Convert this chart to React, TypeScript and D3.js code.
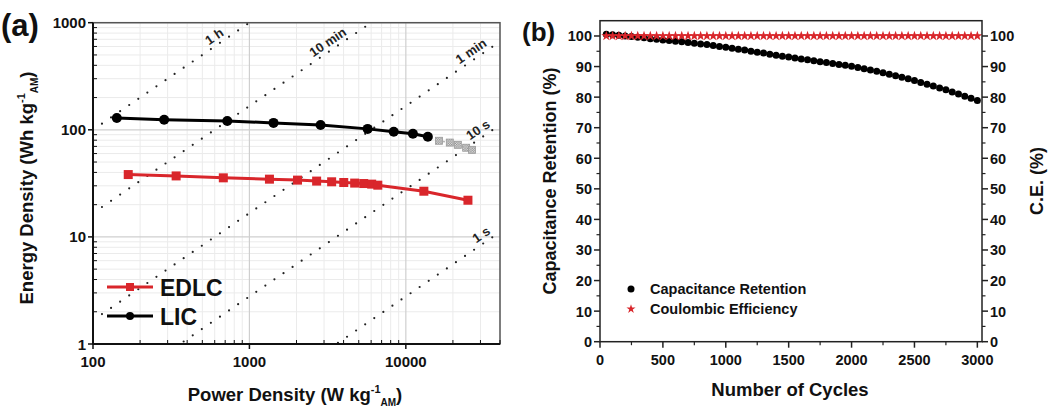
import React from "react";
import * as d3 from "d3";

// ---------- Panel (a) data ----------
const P_LIC = [142, 285, 722, 1426, 2851, 5700, 8370, 11100, 13830];
const E_LIC = [129, 124, 121, 116, 111, 102, 96, 92, 86];
const P_LIC_EXT = [16300, 19100, 21500, 24300, 26500];
const E_LIC_EXT = [79, 76, 72.4, 68, 65];
const P_EDLC = [168, 340, 681, 1343, 2030, 2690, 3355, 4010, 4710, 5380, 6050, 6620, 13040, 24950];
const E_EDLC = [38.2, 37.1, 35.6, 34.6, 33.9, 33.2, 32.7, 32.2, 31.8, 31.5, 31.1, 30.4, 26.7, 22.0];
const TIME_LABELS = ["1 h", "10 min", "1 min", "10 s", "1 s"];
const TIME_HOURS = [1, 1 / 6, 1 / 60, 1 / 360, 1 / 3600];
const TIME_LABEL_P = [640, 3400, 28000, 31000, 32500];
const A_XTICKS = [100, 1000, 10000];
const A_YTICKS = [1, 10, 100, 1000];

// ---------- Panel (b) data ----------
const CYCLES = [
  50, 100, 150, 200, 250, 300, 350, 400, 450, 500, 550, 600, 650, 700, 750, 800, 850, 900, 950, 1000,
  1050, 1100, 1150, 1200, 1250, 1300, 1350, 1400, 1450, 1500, 1550, 1600, 1650, 1700, 1750, 1800, 1850, 1900, 1950, 2000,
  2050, 2100, 2150, 2200, 2250, 2300, 2350, 2400, 2450, 2500, 2550, 2600, 2650, 2700, 2750, 2800, 2850, 2900, 2950, 3000,
];
const RETENTION = [
  100.6, 100.4, 100.2, 100.0, 99.8, 99.6, 99.4, 99.1, 98.9, 98.7, 98.5, 98.3, 98.1, 97.9, 97.6, 97.4, 97.2, 96.9, 96.6, 96.3,
  96.0, 95.7, 95.4, 95.0, 94.7, 94.4, 94.0, 93.7, 93.4, 93.1, 92.8, 92.5, 92.2, 91.9, 91.6, 91.3, 91.0, 90.7, 90.4, 90.1,
  89.7, 89.3, 88.9, 88.5, 88.0, 87.5, 87.0, 86.5, 86.0, 85.4, 84.8, 84.2, 83.6, 83.0, 82.4, 81.7, 81.0, 80.3, 79.6, 78.9,
];
const CE = [
  100, 100, 100, 100, 100, 100, 100, 100, 100, 100, 100, 100, 100, 100, 100, 100, 100, 100, 100, 100,
  100, 100, 100, 100, 100, 100, 100, 100, 100, 100, 100, 100, 100, 100, 100, 100, 100, 100, 100, 100,
  100, 100, 100, 100, 100, 100, 100, 100, 100, 100, 100, 100, 100, 100, 100, 100, 100, 100, 100, 100,
];
const B_XTICKS = [0, 500, 1000, 1500, 2000, 2500, 3000];
const B_YTICKS = [0, 10, 20, 30, 40, 50, 60, 70, 80, 90, 100];

const FONT = "Arial, 'Liberation Sans', Helvetica, sans-serif";
const RED = "#d9262b";

export default function App() {
  // Panel (a) scales
  const ax = d3.scaleLog().domain([100, 40000]).range([93, 500]);
  const ay = d3.scaleLog().domain([1, 1000]).range([344, 22.7]);
  const aL = 93, aR = 500, aT = 22.7, aB = 344;

  const minorX: number[] = [];
  [100, 1000, 10000].forEach((d) => {
    for (let k = 2; k <= 9; k++) if (d * k <= 40000) minorX.push(d * k);
  });
  const minorY: number[] = [];
  [1, 10, 100].forEach((d) => {
    for (let k = 2; k <= 9; k++) minorY.push(d * k);
  });

  const licLine = d3.line<number>().x((_, i) => ax(P_LIC[i])).y((_, i) => ay(E_LIC[i]));
  const licExtLine = d3
    .line<number>()
    .x((_, i) => ax(P_LIC_EXT[i]))
    .y((_, i) => ay(E_LIC_EXT[i]));
  const edlcLine = d3.line<number>().x((_, i) => ax(P_EDLC[i])).y((_, i) => ay(E_EDLC[i]));

  // Panel (b) scales
  const bx = d3.scaleLinear().domain([0, 3037]).range([600, 982]);
  const by = d3.scaleLinear().domain([0, 105]).range([341.7, 20.7]);
  const bL = 600, bR = 982, bT = 20.7, bB = 341.7;
  const bMinorX = d3.range(250, 3001, 500);
  const bMinorY = d3.range(5, 101, 10);
  const star = d3.symbol(d3.symbolStar, 32)() as string;
  const starLegend = d3.symbol(d3.symbolStar, 26)() as string;

  const angle = (Math.atan2(ay(1) - ay(10), ax(10) - ax(1)) * 180) / Math.PI;

  const tickFont = { fontFamily: FONT, fontWeight: 700, fontSize: 15, fill: "#111" } as const;
  const bTickFont = { fontFamily: FONT, fontWeight: 700, fontSize: 14.5, fill: "#111" } as const;

  return (
    <svg
      width={1064}
      height={407}
      style={{ position: "absolute", left: 0, top: 0, background: "#fff" }}
      xmlns="http://www.w3.org/2000/svg"
    >
      <defs>
        <clipPath id="clipA">
          <rect x={aL} y={aT} width={aR - aL} height={aB - aT} />
        </clipPath>
        <pattern id="checker" width={2.4} height={2.4} patternUnits="userSpaceOnUse">
          <rect width={2.4} height={2.4} fill="#e4e4e4" />
          <rect width={1.2} height={1.2} fill="#8a8a8a" />
          <rect x={1.2} y={1.2} width={1.2} height={1.2} fill="#8a8a8a" />
        </pattern>
      </defs>
      <rect x={0} y={0} width={1064} height={407} fill="#fff" />

      {/* ================= Panel (a) ================= */}
      <g>
        {/* minor grid */}
        {minorX.map((v) => (
          <line key={"mgx" + v} x1={ax(v)} x2={ax(v)} y1={aT} y2={aB} stroke="#ebebeb" strokeWidth={1} />
        ))}
        {minorY.map((v) => (
          <line key={"mgy" + v} x1={aL} x2={aR} y1={ay(v)} y2={ay(v)} stroke="#ebebeb" strokeWidth={1} />
        ))}
        {/* major grid */}
        {A_XTICKS.map((v) => (
          <line key={"gx" + v} x1={ax(v)} x2={ax(v)} y1={aT} y2={aB} stroke="#cfcfcf" strokeWidth={1.2} />
        ))}
        {A_YTICKS.map((v) => (
          <line key={"gy" + v} x1={aL} x2={aR} y1={ay(v)} y2={ay(v)} stroke="#cfcfcf" strokeWidth={1.2} />
        ))}

        {/* constant time lines */}
        <g clipPath="url(#clipA)">
          {TIME_HOURS.map((t, i) => (
            <line
              key={"tl" + i}
              x1={ax(30)}
              y1={ay(30 * t)}
              x2={ax(40000)}
              y2={ay(40000 * t)}
              stroke="#222"
              strokeWidth={2.2}
              strokeLinecap="round"
              strokeDasharray="0 11"
            />
          ))}
        </g>
        {TIME_HOURS.map((t, i) => {
          const p = TIME_LABEL_P[i];
          return (
            <g key={"tlab" + i} transform={`translate(${ax(p)},${ay(p * t)}) rotate(${-angle})`}>
              <text
                x={0}
                y={-4}
                textAnchor="middle"
                style={{ fontFamily: FONT, fontWeight: 700, fontSize: 13, fill: "#222" }}
              >
                {TIME_LABELS[i]}
              </text>
            </g>
          );
        })}

        {/* EDLC */}
        <path d={edlcLine(E_EDLC) || ""} fill="none" stroke={RED} strokeWidth={3} />
        {P_EDLC.map((p, i) => (
          <rect key={"ed" + i} x={ax(p) - 4.5} y={ay(E_EDLC[i]) - 4.5} width={9} height={9} fill={RED} />
        ))}

        {/* LIC extension (grey) */}
        <path
          d={licExtLine(E_LIC_EXT) || ""}
          fill="none"
          stroke="#b5b5b5"
          strokeWidth={1.5}
          strokeDasharray="2 2"
        />
        {P_LIC_EXT.map((p, i) => (
          <rect
            key={"le" + i}
            x={ax(p) - 3.5}
            y={ay(E_LIC_EXT[i]) - 3.5}
            width={7}
            height={7}
            fill="url(#checker)"
            stroke="#9a9a9a"
            strokeWidth={0.8}
          />
        ))}

        {/* LIC */}
        <path d={licLine(E_LIC) || ""} fill="none" stroke="#000" strokeWidth={3} />
        {P_LIC.map((p, i) => (
          <circle key={"lic" + i} cx={ax(p)} cy={ay(E_LIC[i])} r={5} fill="#000" />
        ))}

        {/* frame */}
        <rect x={aL} y={aT} width={aR - aL} height={aB - aT} fill="none" stroke="#555" strokeWidth={1.5} />
        <line x1={aL} x2={aL} y1={aT} y2={aB} stroke="#111" strokeWidth={2} />
        <line x1={aL} x2={aR} y1={aB} y2={aB} stroke="#111" strokeWidth={2} />

        {/* ticks */}
        {A_XTICKS.map((v) => (
          <line key={"tx" + v} x1={ax(v)} x2={ax(v)} y1={aB} y2={aB + 5} stroke="#111" strokeWidth={1.5} />
        ))}
        {minorX.map((v) => (
          <line key={"mtx" + v} x1={ax(v)} x2={ax(v)} y1={aB} y2={aB - 4} stroke="#111" strokeWidth={1} />
        ))}
        {A_YTICKS.map((v) => (
          <line key={"ty" + v} x1={aL - 5} x2={aL} y1={ay(v)} y2={ay(v)} stroke="#111" strokeWidth={1.5} />
        ))}
        {minorY.map((v) => (
          <line key={"mty" + v} x1={aL} x2={aL + 4} y1={ay(v)} y2={ay(v)} stroke="#111" strokeWidth={1} />
        ))}

        {/* tick labels */}
        {A_XTICKS.map((v) => (
          <text key={"lx" + v} x={ax(v)} y={aB + 23} textAnchor="middle" style={tickFont}>
            {v}
          </text>
        ))}
        {A_YTICKS.map((v) => (
          <text key={"ly" + v} x={aL - 7} y={ay(v) + 5.5} textAnchor="end" style={tickFont}>
            {v}
          </text>
        ))}

        {/* axis titles */}
        <text x={295} y={401} textAnchor="middle" style={{ fontFamily: FONT, fontWeight: 700, fontSize: 18.5, fill: "#111" }}>
          Power Density (W kg
          <tspan fontSize={11} dy={-8}>-1</tspan>
          <tspan fontSize={10} dy={13}>AM</tspan>
          <tspan dy={-5}>)</tspan>
        </text>
        <text
          transform="translate(33,188) rotate(-90)"
          textAnchor="middle"
          style={{ fontFamily: FONT, fontWeight: 700, fontSize: 18.5, fill: "#111" }}
        >
          Energy Density (Wh kg
          <tspan fontSize={11} dy={-8}>-1</tspan>
          <tspan fontSize={10} dy={13}>AM</tspan>
          <tspan dy={-5}>)</tspan>
        </text>

        {/* panel label */}
        <text x={1} y={36} style={{ fontFamily: FONT, fontWeight: 700, fontSize: 31, fill: "#111" }}>
          (a)
        </text>

        {/* legend */}
        <line x1={107} x2={153} y1={287} y2={287} stroke={RED} strokeWidth={3} />
        <rect x={126} y={283} width={8} height={8} fill={RED} />
        <text x={160} y={296} style={{ fontFamily: FONT, fontWeight: 700, fontSize: 23, fill: "#111" }}>
          EDLC
        </text>
        <line x1={107} x2={153} y1={316} y2={316} stroke="#000" strokeWidth={3} />
        <circle cx={130} cy={316} r={4} fill="#000" />
        <text x={160} y={325} style={{ fontFamily: FONT, fontWeight: 700, fontSize: 23, fill: "#111" }}>
          LIC
        </text>
      </g>

      {/* ================= Panel (b) ================= */}
      <g>
        {/* data */}
        {CYCLES.map((c, i) => (
          <circle key={"r" + i} cx={bx(c)} cy={by(RETENTION[i])} r={3.5} fill="#000" />
        ))}
        {CYCLES.map((c, i) => (
          <path key={"s" + i} d={star} transform={`translate(${bx(c)},${by(CE[i])})`} fill={RED} />
        ))}

        {/* frame */}
        <rect x={bL} y={bT} width={bR - bL} height={bB - bT} fill="none" stroke="#222" strokeWidth={1.5} />

        {/* ticks */}
        {B_XTICKS.map((v) => (
          <line key={"btx" + v} x1={bx(v)} x2={bx(v)} y1={bB} y2={bB + 6} stroke="#222" strokeWidth={1.5} />
        ))}
        {bMinorX.map((v) => (
          <line key={"bmx" + v} x1={bx(v)} x2={bx(v)} y1={bB} y2={bB + 3.5} stroke="#222" strokeWidth={1.2} />
        ))}
        {B_YTICKS.map((v) => (
          <g key={"bty" + v}>
            <line x1={bL - 6} x2={bL} y1={by(v)} y2={by(v)} stroke="#222" strokeWidth={1.5} />
            <line x1={bR} x2={bR + 6} y1={by(v)} y2={by(v)} stroke="#222" strokeWidth={1.5} />
          </g>
        ))}
        {bMinorY.map((v) => (
          <g key={"bmy" + v}>
            <line x1={bL - 3.5} x2={bL} y1={by(v)} y2={by(v)} stroke="#222" strokeWidth={1.2} />
            <line x1={bR} x2={bR + 3.5} y1={by(v)} y2={by(v)} stroke="#222" strokeWidth={1.2} />
          </g>
        ))}

        {/* tick labels */}
        {B_XTICKS.map((v) => (
          <text key={"blx" + v} x={bx(v)} y={bB + 23} textAnchor="middle" style={bTickFont}>
            {v}
          </text>
        ))}
        {B_YTICKS.map((v) => (
          <g key={"bly" + v}>
            <text x={bL - 8} y={by(v) + 5.5} textAnchor="end" style={bTickFont}>
              {v}
            </text>
            <text x={bR + 8} y={by(v) + 5.5} textAnchor="start" style={bTickFont}>
              {v}
            </text>
          </g>
        ))}

        {/* axis titles */}
        <text x={790} y={396} textAnchor="middle" style={{ fontFamily: FONT, fontWeight: 700, fontSize: 18.5, fill: "#111" }}>
          Number of Cycles
        </text>
        <text
          transform="translate(556,181) rotate(-90)"
          textAnchor="middle"
          style={{ fontFamily: FONT, fontWeight: 700, fontSize: 18, fill: "#111" }}
        >
          Capacitance Retention (%)
        </text>
        <text
          transform="translate(1043,181) rotate(-90)"
          textAnchor="middle"
          style={{ fontFamily: FONT, fontWeight: 700, fontSize: 18, fill: "#111" }}
        >
          C.E. (%)
        </text>

        {/* panel label */}
        <text x={522} y={41} style={{ fontFamily: FONT, fontWeight: 700, fontSize: 26, fill: "#111" }}>
          (b)
        </text>

        {/* legend */}
        <circle cx={631} cy={289} r={3.5} fill="#000" />
        <text x={650} y={294} style={{ fontFamily: FONT, fontWeight: 700, fontSize: 14.5, fill: "#111" }}>
          Capacitance Retention
        </text>
        <path d={starLegend} transform="translate(631,309)" fill={RED} />
        <text x={650} y={314} style={{ fontFamily: FONT, fontWeight: 700, fontSize: 14.5, fill: "#111" }}>
          Coulombic Efficiency
        </text>
      </g>
    </svg>
  );
}
